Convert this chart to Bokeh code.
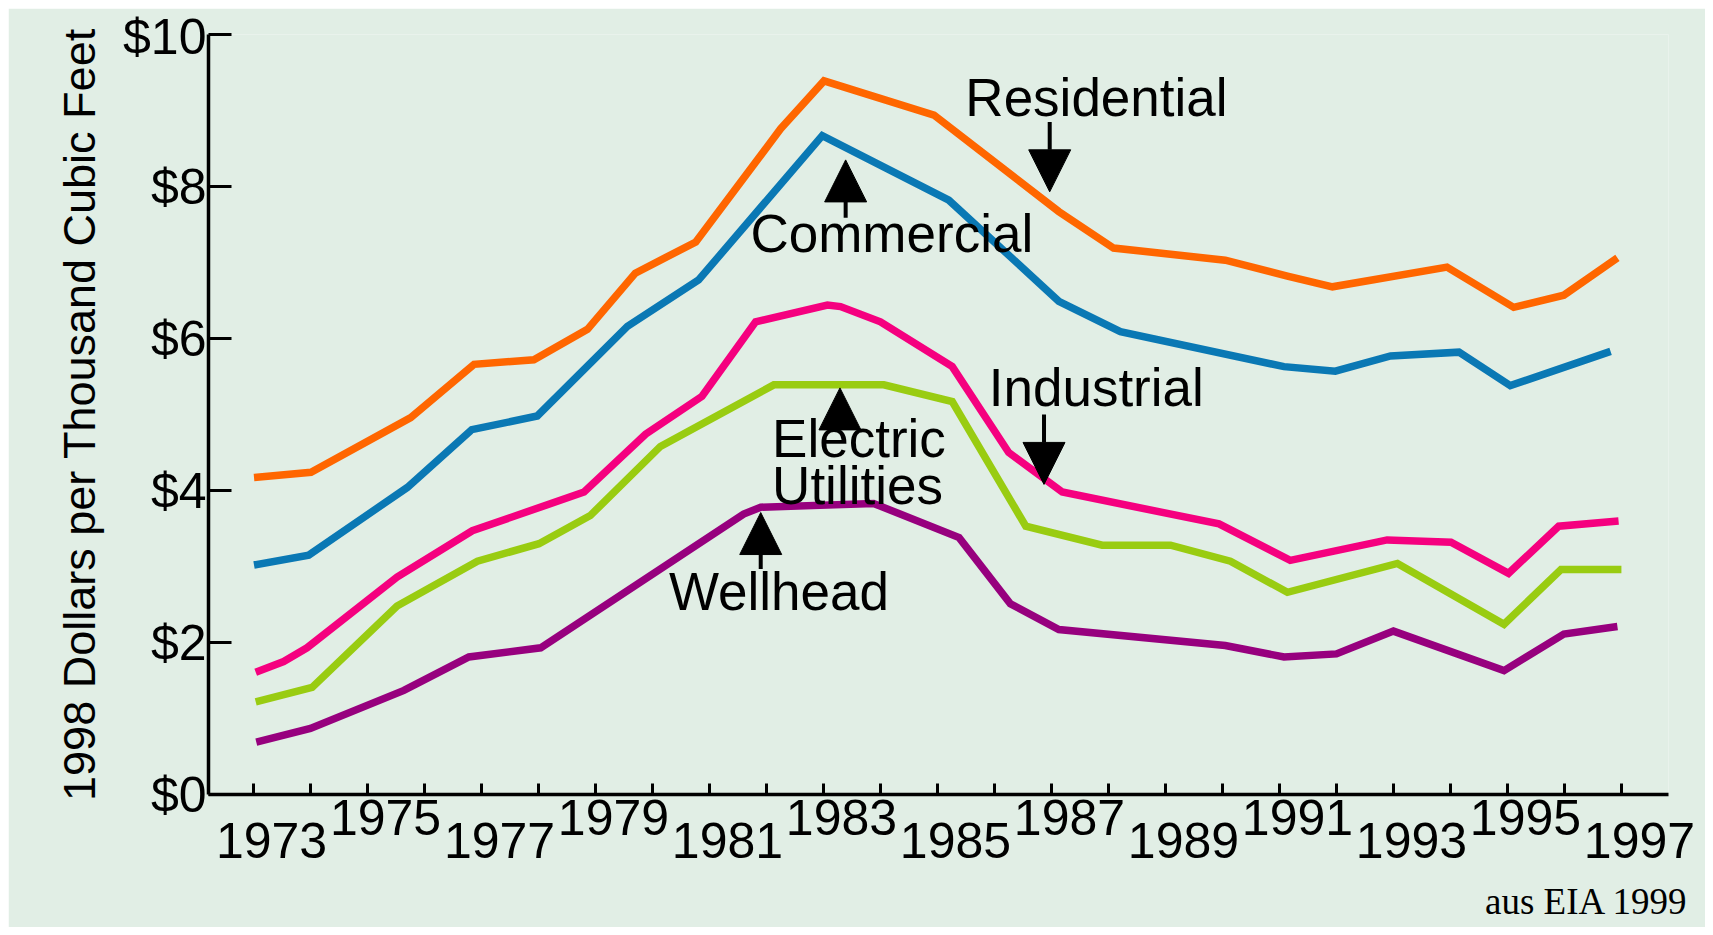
from bokeh.plotting import figure
from bokeh.models import Range1d, FixedTicker, Label, Arrow, NormalHead, Title
from bokeh.embed import file_html
from bokeh.resources import INLINE

# ---------------- data ----------------
residential_x = [1973, 1974, 1975.75, 1976.86, 1977.91, 1978.85, 1979.69, 1980.75, 1982.24, 1983.0,
                 1984.93, 1987.12, 1988.08, 1990.04, 1991.13, 1991.92, 1993.93, 1995.1, 1995.98, 1996.92]
residential_y = [4.17, 4.24, 4.96, 5.66, 5.72, 6.12, 6.86, 7.27, 8.76, 9.39,
                 8.94, 7.67, 7.19, 7.03, 6.82, 6.68, 6.94, 6.41, 6.57, 7.06]

commercial_x = [1973, 1973.96, 1975.69, 1976.82, 1977.97, 1979.55, 1980.8, 1982.97, 1985.19,
                1987.12, 1988.2, 1991.07, 1991.97, 1992.94, 1994.14, 1995.04, 1996.8]
commercial_y = [3.02, 3.15, 4.04, 4.80, 4.98, 6.16, 6.77, 8.67, 7.82,
                6.49, 6.09, 5.63, 5.57, 5.77, 5.82, 5.38, 5.83]

industrial_x = [1973.03, 1973.52, 1973.93, 1975.51, 1976.83, 1978.79, 1979.87, 1980.86, 1981.8,
                1983.06, 1983.29, 1983.99, 1985.25, 1986.24, 1987.18, 1989.93, 1991.18, 1992.88,
                1994.0, 1995.01, 1995.89, 1996.94]
industrial_y = [1.61, 1.75, 1.93, 2.86, 3.47, 3.98, 4.74, 5.24, 6.22,
                6.44, 6.42, 6.22, 5.63, 4.50, 3.98, 3.56, 3.08, 3.35,
                3.32, 2.91, 3.53, 3.60]

electric_x = [1973.03, 1974.02, 1975.51, 1976.92, 1978.0, 1978.9, 1980.13, 1982.12, 1984.05,
              1985.25, 1986.54, 1987.88, 1989.08, 1990.13, 1991.13, 1993.06, 1994.93, 1995.93, 1996.99]
electric_y = [1.22, 1.41, 2.48, 3.07, 3.30, 3.67, 4.58, 5.39, 5.39,
              5.17, 3.53, 3.28, 3.28, 3.07, 2.66, 3.04, 2.24, 2.96, 2.96]

wellhead_x = [1973.04, 1973.99, 1975.63, 1976.77, 1978.03, 1981.59, 1981.89, 1983.87, 1985.37,
              1986.27, 1987.12, 1990.04, 1991.07, 1991.99, 1992.99, 1994.93, 1995.98, 1996.92]
wellhead_y = [0.69, 0.87, 1.37, 1.81, 1.93, 3.69, 3.78, 3.83, 3.38,
              2.51, 2.17, 1.96, 1.81, 1.85, 2.15, 1.63, 2.11, 2.21]

tick_years = list(range(1973, 1998))
label_years = list(range(1973, 1998, 2))
label_texts = [str(y) for y in label_years]
y_ticks = [0, 2, 4, 6, 8, 10]
y_tick_labels = ["$0", "$2", "$4", "$6", "$8", "$10"]
y_title = "1998 Dollars per Thousand Cubic Feet"
source_note = "aus EIA 1999"

series_names = ["Residential", "Commercial", "Industrial", "Electric", "Utilities", "Wellhead"]
colors = ["#ff6600", "#0a78b4", "#f5007f", "#99cc11", "#97007e"]

# ---------------- figure ----------------
BG = "#e1eee5"
FONT = "Liberation Sans"
X0, X1 = 1972.2018, 1997.816

p = figure(width=1697, height=919, output_backend="svg", toolbar_location=None,
           x_range=Range1d(X0, X1), y_range=Range1d(0, 10),
           min_border_left=200, min_border_right=37, min_border_top=26, min_border_bottom=131,
           background_fill_color=BG, border_fill_color=BG, outline_line_color=None)
p.margin = (8, 8, 8, 8)
p.grid.visible = False

# x axis: ticks at every year, staggered labels at odd years (second row via a newline);
# the leading spaces move the figures a little to the right of their tick, as in the original
PAD = "\u2002\u2009"
x_overrides = {}
for y in tick_years:
    x_overrides[y] = ""
for i, (yr, lab) in enumerate(zip(label_years, label_texts)):
    x_overrides[yr] = ("\n" + PAD + lab) if i % 2 == 0 else (PAD + lab)

xa = p.xaxis[0]
xa.ticker = FixedTicker(ticks=tick_years)
xa.major_label_overrides = x_overrides
xa.axis_line_width = 3.5
xa.axis_line_color = "black"
xa.major_tick_in = 11
xa.major_tick_out = 0
xa.major_tick_line_width = 3
xa.major_tick_line_color = "black"
xa.minor_tick_line_color = None
xa.major_label_text_font = FONT
xa.major_label_text_font_size = "50px"
xa.major_label_text_color = "black"
xa.major_label_text_line_height = 0.425
xa.major_label_standoff = -5

ya = p.yaxis[0]
ya.ticker = FixedTicker(ticks=y_ticks)
ya.major_label_overrides = dict(zip(y_ticks, y_tick_labels))
ya.axis_line_width = 3.5
ya.axis_line_color = "black"
ya.major_tick_in = 23
ya.major_tick_out = 0
ya.major_tick_line_width = 3
ya.major_tick_line_color = "black"
ya.minor_tick_line_color = None
ya.major_label_text_font = FONT
ya.major_label_text_font_size = "50px"
ya.major_label_text_color = "black"
ya.major_label_standoff = 2
ya.axis_label = y_title
ya.axis_label_text_font = FONT
ya.axis_label_text_font_size = "45px"
ya.axis_label_text_font_style = "normal"
ya.axis_label_text_color = "black"
ya.axis_label_standoff = 15

all_x = [residential_x, commercial_x, industrial_x, electric_x, wellhead_x]
all_y = [residential_y, commercial_y, industrial_y, electric_y, wellhead_y]
for xs, ys, c in zip(all_x, all_y, colors):
    p.line(xs, ys, line_color=c, line_width=7.5, line_join="miter")

# source note
p.add_layout(Title(text=source_note, align="right", offset=-20, standoff=12,
                   text_font="Liberation Serif", text_font_size="37px",
                   text_font_style="normal", text_color="black"), "below")

# series annotations
ann_font = "53px"


def txt(x, y, t):
    p.add_layout(Label(x=x, y=y, text=t, text_align="left", text_baseline="alphabetic",
                       text_font=FONT, text_font_size=ann_font, text_color="black"))


def arrow(x, y0, y1):
    p.add_layout(Arrow(x_start=x, y_start=y0, x_end=x, y_end=y1, line_width=4, line_color="black",
                       end=NormalHead(size=42, fill_color="black", line_color="black", line_width=1)))


txt(1985.48, 9.17, series_names[0])
arrow(1986.96, 8.85, 7.93)
txt(1981.71, 7.38, series_names[1])
arrow(1983.38, 7.59, 8.35)
txt(1985.89, 5.36, series_names[2])
arrow(1986.86, 5.0, 4.08)
txt(1982.09, 4.685, series_names[3])
txt(1982.09, 4.072, series_names[4])
arrow(1983.28, 4.9, 5.35)
txt(1980.28, 2.673, series_names[5])
arrow(1981.89, 2.966, 3.71)

open("out.html", "w").write(file_html(p, INLINE))
